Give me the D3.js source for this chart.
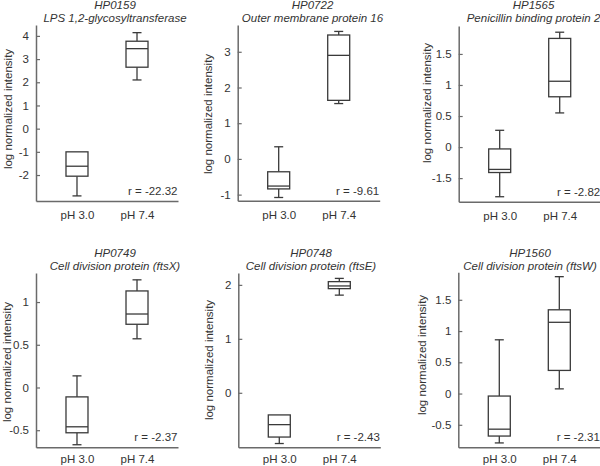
<!DOCTYPE html>
<html>
<head>
<meta charset="utf-8">
<script src="https://cdn.jsdelivr.net/npm/d3@7"></script>
<style>
  html, body { margin: 0; padding: 0; background: #fff; }
  svg { display: block; }
  text { font-family: "Liberation Sans", Arial, sans-serif; fill: #333; }
</style>
</head>
<body>
<svg id="chart" width="600" height="466"></svg>
<script>
// ---------- data ----------
const categories = ["pH 3.0", "pH 7.4"];
const geneIds = ["HP0159", "HP0722", "HP1565", "HP0749", "HP0748", "HP1560"];
const proteinNames = [
  "LPS 1,2-glycosyltransferase",
  "Outer membrane protein 16",
  "Penicillin binding protein 2",
  "Cell division protein (ftsX)",
  "Cell division protein (ftsE)",
  "Cell division protein (ftsW)"
];
const rLabels = ["r = -22.32", "r = -9.61", "r = -2.82", "r = -2.37", "r = -2.43", "r = -2.31"];

// box statistics, [pH 3.0, pH 7.4] for each panel
const whiskerLow  = [[-2.90, 2.10], [-1.08, 1.55], [-0.80, 0.55], [-0.67, 0.57], [-0.94, 1.81], [-0.79, 0.075]];
const quartile1   = [[-2.05, 2.65], [-0.84, 1.64], [-0.41, 0.81], [-0.53, 0.74], [-0.82, 1.93], [-0.68, 0.37]];
const medians     = [[-1.62, 3.45], [-0.76, 2.90], [-0.36, 1.06], [-0.46, 0.86], [-0.59, 1.98], [-0.57, 1.14]];
const quartile3   = [[-1.00, 3.77], [-0.36, 3.47], [-0.03, 1.75], [-0.11, 1.13], [-0.41, 2.06], [-0.04, 1.34]];
const whiskerHigh = [[-1.00, 4.14], [0.34, 3.57], [0.27, 1.85], [0.136, 1.26], [-0.41, 2.12], [0.86, 1.87]];

// y axis tick values and their printed labels
const tickValues = [
  [-2, -1, 0, 1, 2, 3, 4],
  [-1, 0, 1, 2, 3],
  [-0.5, 0, 0.5, 1, 1.5],
  [-0.5, 0, 0.5, 1],
  [0, 1, 2],
  [-0.5, 0, 0.5, 1, 1.5]
];
const tickLabels = [
  ["-2", "-1", "0", "1", "2", "3", "4"],
  ["-1", "0", "1", "2", "3"],
  ["-1.5", "0", "0.5", "1", "1.5"],
  ["-0.5", "0", "0.5", "1"],
  ["0", "1", "2"],
  ["-0.5", "0", "0.5", "1", "1.5"]
];
// y axis limits
const yMin = [-3.12, -1.17, -0.88, -0.70, -1.01, -0.86];
const yMax = [4.47, 3.75, 1.95, 1.34, 2.22, 1.94];
const yAxisTitle = "log normalized intensity";

// ---------- layout ----------
const axisX     = [36, 237.7, 458.7, 36, 238.3, 458.3];
const axisTop   = [25, 25, 26, 273, 273, 272.3];
const axisBot   = [201, 200.7, 201.7, 447.3, 447.3, 447.3];
const titleX    = [115, 312.5, 533.5, 115, 311, 530];
const titleY    = [9, 9, 9, 257, 257, 257];
const yLabX     = [11.5, 212, 431, 10.5, 212.5, 425.5];
const yLabY     = [109, 114, 103, 362, 360, 355];
const xLabPad   = [10, 10, 10, 7.5, 7.5, 7.5];
const plotW = 142;
const boxW = 22, capW = 9;

const svg = d3.select("#chart");
const axisColor = "#6a6a6a";
const boxColor = "#3a3a3a";
const fs = "11.5px";

geneIds.forEach((gene, i) => {
  const g = svg.append("g");
  const x = d3.scalePoint().domain(categories)
    .range([axisX[i], axisX[i] + plotW]).padding(0.683);
  const y = d3.scaleLinear().domain([yMin[i], yMax[i]])
    .range([axisBot[i], axisTop[i]]);

  // y axis
  const yAxis = d3.axisLeft(y)
    .tickValues(tickValues[i])
    .tickFormat((d, k) => tickLabels[i][k])
    .tickSizeInner(-4).tickSizeOuter(0).tickPadding(7);
  const ya = g.append("g").attr("transform", `translate(${axisX[i]},0)`).call(yAxis);
  ya.select(".domain").attr("stroke", axisColor).attr("stroke-width", 1.5);
  ya.selectAll(".tick line").attr("stroke", axisColor).attr("stroke-width", 1.2);
  ya.selectAll(".tick text").attr("font-size", fs).attr("fill", "#333")
    .attr("font-family", "Liberation Sans, Arial, sans-serif");

  // x axis
  const xAxis = d3.axisBottom(x).tickSize(0).tickPadding(xLabPad[i]);
  const xa = g.append("g").attr("transform", `translate(0,${axisBot[i]})`).call(xAxis);
  xa.select(".domain").attr("stroke", axisColor).attr("stroke-width", 1.5);
  xa.selectAll(".tick text").attr("font-size", fs).attr("fill", "#333")
    .attr("font-family", "Liberation Sans, Arial, sans-serif");

  // boxes
  categories.forEach((c, k) => {
    const cx = x(c);
    const lo = whiskerLow[i][k], q1 = quartile1[i][k], md = medians[i][k],
          q3 = quartile3[i][k], hi = whiskerHigh[i][k];
    const bg = g.append("g").attr("stroke", boxColor).attr("stroke-width", 1.3).attr("fill", "none");
    if (hi > q3) {
      bg.append("line").attr("x1", cx).attr("x2", cx).attr("y1", y(q3)).attr("y2", y(hi));
      bg.append("line").attr("x1", cx - capW / 2).attr("x2", cx + capW / 2).attr("y1", y(hi)).attr("y2", y(hi));
    }
    if (lo < q1) {
      bg.append("line").attr("x1", cx).attr("x2", cx).attr("y1", y(q1)).attr("y2", y(lo));
      bg.append("line").attr("x1", cx - capW / 2).attr("x2", cx + capW / 2).attr("y1", y(lo)).attr("y2", y(lo));
    }
    bg.append("rect").attr("x", cx - boxW / 2).attr("width", boxW)
      .attr("y", y(q3)).attr("height", y(q1) - y(q3)).attr("fill", "#fff");
    bg.append("line").attr("x1", cx - boxW / 2).attr("x2", cx + boxW / 2)
      .attr("y1", y(md)).attr("y2", y(md));
  });

  // titles
  g.append("text").attr("x", titleX[i]).attr("y", titleY[i])
    .attr("text-anchor", "middle").attr("font-style", "italic").attr("font-size", fs)
    .text(gene);
  g.append("text").attr("x", titleX[i]).attr("y", titleY[i] + 13)
    .attr("text-anchor", "middle").attr("font-style", "italic").attr("font-size", fs)
    .text(proteinNames[i]);

  // y axis title
  g.append("text")
    .attr("transform", `translate(${yLabX[i]},${yLabY[i]}) rotate(-90)`)
    .attr("text-anchor", "middle").attr("font-size", fs)
    .text(yAxisTitle);

  // r label
  g.append("text").attr("x", axisX[i] + plotW - 0.5).attr("y", axisBot[i] - 6)
    .attr("text-anchor", "end").attr("font-size", fs)
    .text(rLabels[i]);
});
</script>
</body>
</html>
